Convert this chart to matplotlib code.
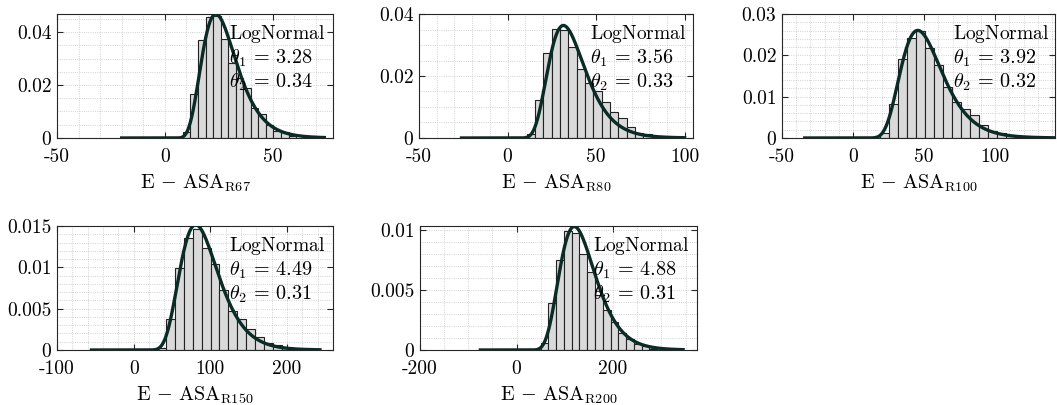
import numpy as np
import matplotlib
matplotlib.use("Agg")
import matplotlib.pyplot as plt
from matplotlib.ticker import MultipleLocator, FixedLocator

plt.rcParams["font.family"] = "serif"
plt.rcParams["font.serif"] = ["cmr10"]
plt.rcParams["mathtext.fontset"] = "cm"
plt.rcParams["axes.unicode_minus"] = False

# ── 数据 ──────────────────────────────────────────────────────
names  = ["R67", "R80", "R100", "R150", "R200"]
theta1 = [3.28, 3.56, 3.92, 4.49, 4.88]
theta2 = [0.34, 0.33, 0.32, 0.31, 0.31]

bin_start = [8.4, 10.8, 18.85, 30.4, 49.8]
bin_width = [3.5, 4.7, 6.33, 11.65, 16.1]

dens_r67  = [0.0022, 0.0167, 0.0371, 0.0457, 0.0462, 0.0372, 0.0282, 0.0225,
             0.0190, 0.0113, 0.0092, 0.0050, 0.0028, 0.0021, 0.0008]
dens_r80  = [0.0014, 0.0123, 0.0275, 0.0351, 0.0347, 0.0295, 0.0223, 0.0178,
             0.0152, 0.0116, 0.0085, 0.0066, 0.0036, 0.0016, 0.0012, 0.0004]
dens_r100 = [0.0011, 0.0082, 0.0190, 0.0242, 0.0259, 0.0218, 0.0177, 0.0123,
             0.0088, 0.0070, 0.0055, 0.0032, 0.0017, 0.0011, 0.0005, 0.0002]
dens_r150 = [0.0002, 0.0037, 0.0099, 0.0135, 0.0147, 0.0123, 0.0104, 0.0073,
             0.0047, 0.0038, 0.0025, 0.0016, 0.0009, 0.0006, 0.0003]
dens_r200 = [0.0006, 0.0039, 0.0075, 0.0099, 0.0097, 0.0080, 0.0065, 0.0046,
             0.0033, 0.0023, 0.0014, 0.0009, 0.0005, 0.0003, 0.0001]
densities = [dens_r67, dens_r80, dens_r100, dens_r150, dens_r200]

curve_lo = [-20, -26, -34, -55, -75]
curve_hi = [74, 100, 142, 243, 345]

xlims = [(-50, 78), (-50, 104.7), (-50, 142), (-100, 260), (-200, 374)]
ylims = [(0, 0.0468), (0, 0.04), (0, 0.03), (0, 0.015), (0, 0.0103)]
xticks = [[-50, 0, 50], [-50, 0, 50, 100], [-50, 0, 50, 100],
          [-100, 0, 100, 200], [-200, 0, 200]]
yticks = [[0, 0.02, 0.04], [0, 0.02, 0.04], [0, 0.01, 0.02, 0.03],
          [0, 0.005, 0.01, 0.015], [0, 0.005, 0.01]]
ytick_labels = [["0", "0.02", "0.04"], ["0", "0.02", "0.04"],
                ["0", "0.01", "0.02", "0.03"], ["0", "0.005", "0.01", "0.015"],
                ["0", "0.005", "0.01"]]
x_minor = [10, 10, 10, 20, 50]
y_minor = [0.005, 0.005, 0.002, 0.001, 0.001]

# 子图位置（figure 坐标）
positions = [
    [0.0539, 0.6593, 0.2611, 0.3061],
    [0.3964, 0.6593, 0.2592, 0.3061],
    [0.7398, 0.6593, 0.2583, 0.3061],
    [0.0539, 0.1358, 0.2611, 0.3061],
    [0.3974, 0.1358, 0.2621, 0.3061],
]

BAR_FACE = "#dadada"
BAR_EDGE = "#222222"
CURVE    = "#0b2b26"
AX_COLOR = "#262626"


def lognormal_pdf(x, mu, sigma):
    out = np.zeros_like(x)
    pos = x > 0
    xp = x[pos]
    out[pos] = np.exp(-(np.log(xp) - mu) ** 2 / (2 * sigma ** 2)) / (xp * sigma * np.sqrt(2 * np.pi))
    return out


fig = plt.figure(figsize=(10.57, 4.05), dpi=100)

for i in range(5):
    ax = fig.add_axes(positions[i])
    dens = densities[i]
    lefts = [bin_start[i] + k * bin_width[i] for k in range(len(dens))]
    ax.bar(lefts, dens, width=bin_width[i], align="edge", color=BAR_FACE,
           edgecolor=BAR_EDGE, linewidth=0.8, zorder=2)

    xs = np.linspace(curve_lo[i], curve_hi[i], 600)
    ax.plot(xs, lognormal_pdf(xs, theta1[i], theta2[i]), color=CURVE, lw=2.4, zorder=3)

    ax.set_xlim(*xlims[i])
    ax.set_ylim(*ylims[i])
    ax.xaxis.set_major_locator(FixedLocator(xticks[i]))
    ax.set_xticklabels([str(t) for t in xticks[i]])
    ax.yaxis.set_major_locator(FixedLocator(yticks[i]))
    ax.set_yticklabels(ytick_labels[i])
    ax.xaxis.set_minor_locator(MultipleLocator(x_minor[i]))
    ax.yaxis.set_minor_locator(MultipleLocator(y_minor[i]))

    ax.grid(which="both", linestyle=":", color="#c4c4c4", linewidth=0.6, zorder=0)
    ax.set_axisbelow(True)
    ax.tick_params(which="major", direction="in", length=4, width=0.8,
                   top=True, right=True, labelsize=14, colors=AX_COLOR,
                   labelcolor="black")
    ax.tick_params(axis="x", which="major", pad=7)
    ax.tick_params(axis="y", which="major", pad=4)
    ax.tick_params(which="minor", length=0)
    for s in ax.spines.values():
        s.set_color(AX_COLOR)
        s.set_linewidth(0.8)

    ax.set_xlabel(r"$\mathrm{E}\,-\,\mathrm{ASA}_{\mathrm{%s}}$" % names[i],
                  fontsize=14.5, labelpad=5)

    ax.text(0.625, 0.835, r"$\mathrm{LogNormal}$", transform=ax.transAxes,
            fontsize=14, va="center", ha="left", zorder=4)
    ax.text(0.625, 0.64, r"$\theta_1\,=\,%.2f$" % theta1[i], transform=ax.transAxes,
            fontsize=14.5, va="center", ha="left", zorder=4)
    ax.text(0.625, 0.45, r"$\theta_2\,=\,%.2f$" % theta2[i], transform=ax.transAxes,
            fontsize=14.5, va="center", ha="left", zorder=4)

fig.savefig("out.png", dpi=100)
